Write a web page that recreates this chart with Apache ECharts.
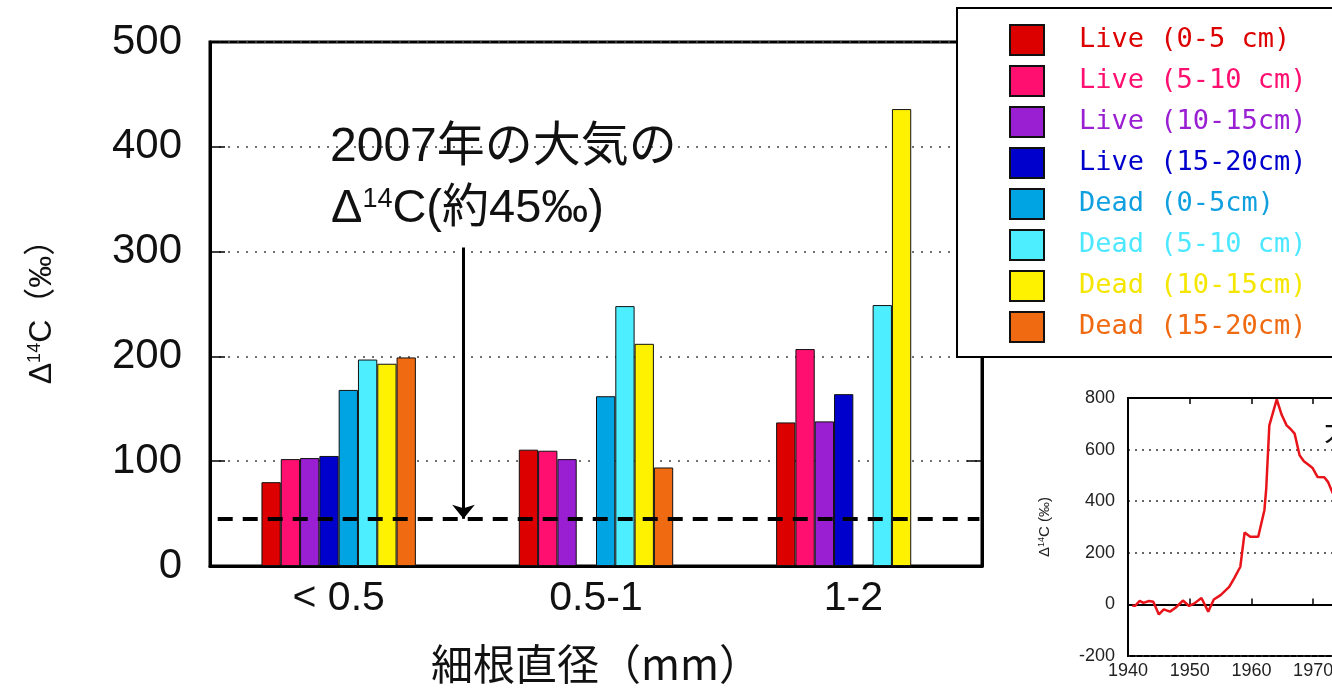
<!DOCTYPE html>
<html>
<head>
<meta charset="UTF-8">
<title>細根のΔ14C</title>
<script src="https://cdn.jsdelivr.net/npm/echarts@6/dist/echarts.min.js"></script>
<style>
html,body{margin:0;padding:0;background:#fff}
#main{width:1332px;height:688px}
</style>
</head>
<body>
<div id="main"></div>
<script>
// 細根直径の区分
var diameters = ['< 0.5', '0.5-1', '1-2'];
// 系列名（凡例）
var seriesNames = ['Live (0-5 cm)', 'Live (5-10 cm)', 'Live (10-15cm)', 'Live (15-20cm)',
	'Dead (0-5cm)', 'Dead (5-10 cm)', 'Dead (10-15cm)', 'Dead (15-20cm)'];
// Δ14C (‰)、'-' はデータなし
var live0_5   = [80, 111, 137];
var live5_10  = [102, 110, 207];
var live10_15 = [103, 102, 138];
var live15_20 = [105, '-', 164];
var dead0_5   = [168, 162, '-'];
var dead5_10  = [197, 248, 249];
var dead10_15 = [193, 212, 436];
var dead15_20 = [199, 94, '-'];
// 2007年の大気のΔ14C
var atmos2007 = 45;
var arrowTop = 304;

// 挿入図：大気Δ14Cの経年変化
var insetYears = [1940.7, 1941.2, 1941.9, 1942.5, 1943.4, 1944.1, 1945.0, 1945.8, 1946.8, 1947.7,
	1948.9, 1949.9, 1950.7, 1951.9, 1953.0, 1953.9, 1955.0, 1956.4, 1957.2, 1958.2,
	1958.9, 1959.8, 1961.1, 1962.1, 1962.4, 1962.9, 1964.1, 1964.9, 1965.7, 1966.3,
	1967.0, 1967.8, 1968.5, 1969.2, 1969.9, 1970.7, 1971.8, 1972.4, 1973.2];
var insetD14C = [-5, -5, 14, 6, 13, 10, -39, -19, -28, -13,
	15, -6, 3, 25, -28, 19, 36, 68, 101, 146,
	279, 262, 262, 365, 449, 694, 795, 735, 694, 681,
	662, 578, 555, 542, 529, 494, 493, 475, 430];

var colors = ['#dd0000', '#ff1070', '#9a1ed2', '#0000cc', '#00a4e2', '#4deeff', '#fff200', '#f06a12'];
var textColors = ['#dd0000', '#ff1070', '#9a1ed2', '#0000cc', '#10a0e0', '#4de8ff', '#f5e600', '#f06a12'];
var barData = [live0_5, live5_10, live10_15, live15_20, dead0_5, dead5_10, dead10_15, dead15_20];

var insetData = [];
for (var i = 0; i < insetYears.length; i++) {
	insetData.push([insetYears[i], insetD14C[i]]);
}

var latin = "'Liberation Sans', Arial, 'Noto Sans CJK JP', sans-serif";
var dotted = {color: '#444', width: 1.5, type: [2, 7]};
var plain = function (v) { return String(v); };

var series = [];
for (var k = 0; k < seriesNames.length; k++) {
	series.push({
		name: seriesNames[k],
		type: 'bar',
		xAxisIndex: 0,
		yAxisIndex: 0,
		barGap: '0%',
		barCategoryGap: '40%',
		itemStyle: {color: colors[k], borderColor: '#111', borderWidth: 1},
		data: barData[k]
	});
}
// 破線と矢印
series.push({
	name: 'ref',
	type: 'line',
	xAxisIndex: 1,
	yAxisIndex: 0,
	symbol: 'none',
	lineStyle: {width: 0},
	silent: true,
	z: 5,
	data: [[0.985, atmos2007]],
	markLine: {
		silent: true,
		animation: false,
		label: {show: false},
		data: [
			[{coord: [0.03, atmos2007], symbol: 'none', lineStyle: {color: '#000', width: 4, type: [15, 10]}},
			 {coord: [2.99, atmos2007], symbol: 'none'}],
			[{coord: [0.985, arrowTop], symbol: 'none', lineStyle: {color: '#000', width: 3, type: 'solid'}},
			 {coord: [0.985, atmos2007], symbol: 'arrow', symbolSize: [17, 14]}]
		]
	}
});
// 挿入図の線
series.push({
	name: 'atm',
	type: 'line',
	xAxisIndex: 2,
	yAxisIndex: 2,
	symbol: 'none',
	lineStyle: {color: '#e8141a', width: 2.5},
	data: insetData
});

var legendData = [];
for (var j = 0; j < seriesNames.length; j++) {
	legendData.push({name: seriesNames[j], textStyle: {color: textColors[j]}});
}

var chart = echarts.init(document.getElementById('main'));
chart.setOption({
	animation: false,
	backgroundColor: '#fff',
	grid: [
		{left: 210, top: 42, width: 772, height: 524, outerBoundsMode: 'none',
		 show: true, borderColor: '#000', borderWidth: 3, backgroundColor: 'transparent'},
		{left: 1128, top: 398, width: 432, height: 258, outerBoundsMode: 'none',
		 show: true, borderColor: '#000', borderWidth: 2, backgroundColor: 'transparent'}
	],
	legend: {
		orient: 'vertical',
		left: 957,
		top: 8,
		padding: [16, 80, 14, 52],
		backgroundColor: '#fff',
		borderColor: '#000',
		borderWidth: 2,
		icon: 'rect',
		itemWidth: 34,
		itemHeight: 30,
		itemGap: 9,
		selectedMode: false,
		textStyle: {fontFamily: "'DejaVu Sans Mono', monospace", fontSize: 27, lineHeight: 30, padding: [0, 0, 0, 30]},
		data: legendData
	},
	xAxis: [
		{
			type: 'category',
			gridIndex: 0,
			data: diameters,
			axisLine: {lineStyle: {color: '#000', width: 3}},
			axisTick: {inside: true, length: 13, lineStyle: {color: '#000', width: 1.5}},
			axisLabel: {fontSize: 41, color: '#111', fontFamily: latin, margin: 12},
			name: '細根直径（mm）',
			nameLocation: 'middle',
			nameGap: 77,
			nameTextStyle: {fontSize: 42, color: '#111', fontFamily: "'Noto Sans CJK JP', sans-serif"}
		},
		{
			type: 'value',
			gridIndex: 0,
			min: 0,
			max: 3,
			show: false
		},
		{
			type: 'value',
			gridIndex: 1,
			min: 1940,
			max: 2010,
			interval: 10,
			axisLine: {lineStyle: {color: '#000', width: 2}},
			axisTick: {inside: true, length: 6, lineStyle: {color: '#000', width: 1.5}},
			axisLabel: {fontSize: 18, color: '#222', fontFamily: latin, margin: 6, formatter: plain},
			splitLine: {show: false}
		},
		{
			type: 'value',
			gridIndex: 1,
			position: 'top',
			min: 1940,
			max: 2010,
			interval: 10,
			axisLine: {lineStyle: {color: '#000', width: 2}},
			axisTick: {inside: true, length: 6, lineStyle: {color: '#000', width: 1.5}},
			axisLabel: {show: false},
			splitLine: {show: false}
		}
	],
	yAxis: [
		{
			type: 'value',
			gridIndex: 0,
			min: 0,
			max: 500,
			interval: 100,
			axisLine: {show: true, lineStyle: {color: '#000', width: 3}},
			axisTick: {show: true, inside: true, length: 15, lineStyle: {color: '#000', width: 1.5}},
			axisLabel: {fontSize: 42, color: '#111', fontFamily: latin, margin: 28},
			splitLine: {show: true, lineStyle: dotted},
			name: '{a|Δ}{s|14}{a|C（‰）}',
			nameLocation: 'middle',
			nameRotate: 90,
			nameGap: 152,
			nameTextStyle: {
				rich: {
					a: {fontSize: 32, color: '#111', fontFamily: latin},
					s: {fontSize: 18, color: '#111', fontFamily: latin, verticalAlign: 'top', padding: [0, 0, 12, 0]}
				}
			}
		},
		{
			type: 'value',
			gridIndex: 0,
			position: 'right',
			min: 0,
			max: 500,
			interval: 100,
			axisLine: {show: true, lineStyle: {color: '#000', width: 3}},
			axisTick: {show: true, inside: true, length: 15, lineStyle: {color: '#000', width: 1.5}},
			axisLabel: {show: false},
			splitLine: {show: false}
		},
		{
			type: 'value',
			gridIndex: 1,
			min: -200,
			max: 800,
			interval: 200,
			axisLine: {show: true, lineStyle: {color: '#000', width: 2}},
			axisTick: {show: false},
			axisLabel: {fontSize: 18, color: '#222', fontFamily: latin, margin: 13},
			splitLine: {show: true, lineStyle: {color: '#333', width: 1.5, type: [2, 5]}},
			name: '{a|Δ}{s|14}{a|C (‰)}',
			nameLocation: 'middle',
			nameRotate: 90,
			nameGap: 76,
			nameTextStyle: {
				rich: {
					a: {fontSize: 15, color: '#222', fontFamily: latin},
					s: {fontSize: 9, color: '#222', fontFamily: latin, verticalAlign: 'top', padding: [0, 0, 6, 0]}
				}
			}
		}
	],
	graphic: [
		{
			type: 'text',
			left: 330,
			top: 124,
			z: 10,
			style: {
				text: '2007年の大気の',
				font: "48px 'Liberation Sans', 'Noto Sans CJK JP', sans-serif",
				fill: '#111'
			}
		},
		{
			type: 'text',
			left: 331,
			top: 186,
			z: 10,
			style: {
				text: '{a|Δ}{s|14}{a|C(約45‰)}',
				rich: {
					a: {fontSize: 47, fontFamily: "'Liberation Sans', 'Noto Sans CJK JP', sans-serif", fill: '#111'},
					s: {fontSize: 27, fontFamily: "'Liberation Sans', sans-serif", fill: '#111', verticalAlign: 'top', padding: [0, 0, 18, 0]}
				}
			}
		},
		{
			type: 'text',
			left: 1324,
			top: 416,
			z: 10,
			style: {
				text: '大気',
				font: "28px 'Noto Sans CJK JP', sans-serif",
				fill: '#111'
			}
		}
	],
	series: series
});
</script>
</body>
</html>
